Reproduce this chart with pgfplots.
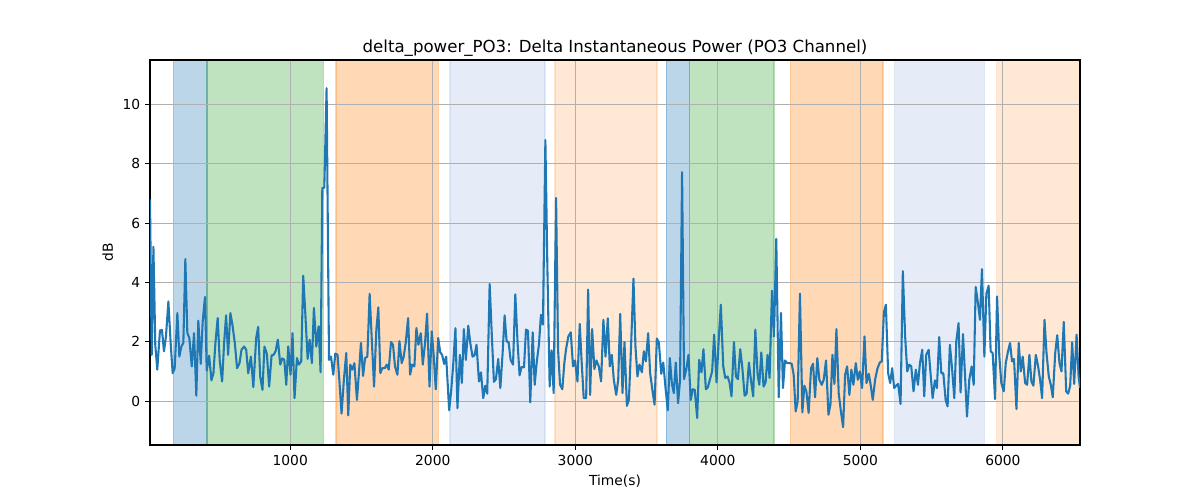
\documentclass[border=0pt]{standalone}
\usepackage{fontspec}
\setmainfont{DejaVu Sans}
\usepackage{pgfplots}
\pgfplotsset{compat=1.18}
\definecolor{tabblue}{RGB}{31,119,180}
\definecolor{lightspan}{RGB}{80,130,200}
\definecolor{tabgreen}{RGB}{44,160,44}
\definecolor{taborange}{RGB}{255,127,14}
\definecolor{gridgray}{RGB}{176,176,176}
\newcommand{\vspan}[4]{\addplot[on layer=axis background, fill=#3, draw=#3, fill opacity=#4, draw opacity=#4, line width=1bp] coordinates {(#1,-1.48) (#2,-1.48) (#2,11.5) (#1,11.5) (#1,-1.48)};}
\begin{document}
\begin{tikzpicture}
\begin{axis}[
  set layers,
  at={(0,0)}, anchor=south west,
  scale only axis, width=669.6bp, height=277.2bp,
  xmin=16, xmax=6541, ymin=-1.48, ymax=11.5,
  xtick={1000,2000,3000,4000,5000,6000}, ytick={0,2,4,6,8,10},
  grid=major, grid style={color=gridgray, line width=0.8bp},
  axis line style={line width=0.8bp},
  tick align=outside, major tick length=3.5bp,
  tick style={black, line width=0.8bp},
  tick pos=left,
  ticklabel style={font=\fontsize{10}{12}\selectfont},
  /pgf/number format/assume math mode=true,
  /pgf/number format/1000 sep={},
  xlabel={Time(s)}, ylabel={dB},
  label style={font=\fontsize{10}{12}\selectfont},
  title={delta\_power\_PO3: Delta Instantaneous Power (PO3 Channel)},
  title style={font=\fontsize{12}{14}\selectfont, inner sep=0pt, yshift=-3.6bp},
]
\vspan{180}{417}{tabblue}{0.3}
\vspan{417}{1232}{tabgreen}{0.3}
\vspan{1320}{2040}{taborange}{0.3}
\vspan{2122}{2786}{lightspan}{0.15}
\vspan{2857}{3574}{taborange}{0.18}
\vspan{3638}{3801}{tabblue}{0.3}
\vspan{3801}{4394}{tabgreen}{0.3}
\vspan{4509}{5160}{taborange}{0.3}
\vspan{5240}{5870}{lightspan}{0.15}
\vspan{5957}{6541}{taborange}{0.18}
\addplot[color=tabblue, line width=1.5bp, line join=round] coordinates {
(16,6.8) (28,1.56) (40,5.2) (53,1.9) (67,1.06) (86,2.38) (100,2.4) (114,1.68) (128,2.18) (145,3.36) (161,1.96) (175,0.94) (189,1.1) (208,2.97) (222,1.5) (236,1.84) (250,1.96) (264,4.79) (278,2.29) (292,2.13) (309,1.17) (325,2.29) (341,0.18) (355,2.71) (372,1.26) (386,2.71) (402,3.51) (414,1.03) (431,1.53) (447,0.70) (461,0.94) (475,1.96) (491,2.8) (505,1.37) (522,0.66) (536,1.96) (550,2.89) (564,1.56) (580,2.97) (594,2.58) (611,1.96) (627,1.11) (644,1.28) (658,1.73) (676,1.84) (691,1.73) (705,0.94) (724,1.5) (741,0.47)
(761,2.13) (775,2.5) (789,0.83) (805,0.38) (819,1.84) (836,1.59) (852,0.49) (869,1.54) (883,1.56) (897,1.68) (913,2.07) (930,1.23) (944,1.44) (958,1.39) (972,0.55) (986,1.84) (1002,0.89) (1016,2.29) (1030,0.1) (1047,1.45) (1061,1.23) (1077,1.34) (1091,4.23) (1108,2.74) (1122,1.42) (1136,2.07) (1152,1.28) (1166,3.14) (1183,1.84) (1199,2.52) (1213,0.97) (1225,7.19) (1239,7.19) (1255,10.55) (1272,1.39) (1286,1.5) (1302,0.89) (1316,1.6) (1332,1.56) (1346,0.6) (1360,-0.42) (1376,0.7) (1393,1.62) (1407,-0.48) (1421,1.23) (1435,1.06) (1450,1.28)
(1468,0.04) (1484,1.1) (1496,1.96) (1511,0.85) (1525,1.45) (1541,1.5) (1557,3.62) (1571,2.18) (1588,0.49) (1604,2.4) (1618,3.16) (1632,0.94) (1646,1.11) (1663,1.11) (1677,1.23) (1691,1.06) (1707,1.99) (1721,1.9) (1735,1.17) (1752,0.89) (1766,2.02) (1782,1.28) (1796,1.5) (1810,1.96) (1827,2.8) (1841,0.89) (1855,1.23) (1871,1.17) (1885,2.46) (1899,1.9) (1916,2.29) (1930,1.23) (1946,1.98) (1960,2.95) (1977,0.49) (1993,2.35) (2007,1.5) (2021,0.4) (2038,2.13) (2052,1.65) (2066,1.55) (2080,1.25) (2094,1.5) (2115,-0.31) (2129,0.35) (2143,1.2) (2159,2.46) (2173,-0.24)
(2190,1.56) (2204,0.61) (2218,2.43) (2232,1.39) (2249,2.54) (2263,1.96) (2279,1.5) (2293,1.54) (2307,1.9) (2324,0.66) (2338,0.97) (2354,0.1) (2368,0.52) (2382,0.25) (2399,3.95) (2415,2.13) (2429,0.65) (2443,0.74) (2459,1.42) (2474,0.44) (2490,1.62) (2504,2.89) (2518,2.01) (2532,1.99) (2546,1.39) (2563,1.23) (2579,3.6) (2595,1.96) (2609,0.87) (2623,1.15) (2640,1.14) (2654,2.41) (2668,2.37) (2684,-0.04) (2701,2.32) (2715,0.55) (2729,1.3) (2745,1.92) (2759,2.91) (2773,2.58) (2790,8.8) (2804,4.5) (2820,0.49) (2834,1.71) (2848,0.27) (2865,6.85) (2879,1.73) (2893,0.55) (2909,0.4) (2923,1.28)
(2935,1.75) (2951,2.18) (2968,2.32) (2984,1.17) (2998,1.37) (3015,0.66) (3031,2.6) (3045,1.28) (3059,0.1) (3076,0.1) (3090,3.76) (3104,0.21) (3118,2.43) (3134,1.08) (3148,1.37) (3165,1.17) (3181,0.66) (3197,2.74) (3212,1.5) (3228,2.79) (3242,1.17) (3256,1.56) (3270,0.72) (3287,0.21) (3301,0.72) (3315,2.94) (3331,0.27) (3345,1.99) (3362,-0.16) (3376,0.04) (3392,1.96) (3408,4.13) (3422,1.84) (3436,0.83) (3450,1.23) (3467,0.97) (3481,1.68) (3495,1.34) (3511,2.29) (3525,0.94) (3542,0.33) (3556,-0.12) (3572,2.11) (3586,1.98) (3603,0.92) (3617,1.3) (3633,0.44) (3649,-0.31)
(3663,1.45) (3677,0.61) (3691,0.27) (3705,1.3) (3721,-0.07) (3735,0.72) (3749,7.72) (3763,0.74) (3780,1.11) (3794,1.56) (3810,0.04) (3824,0.4) (3838,0.38) (3855,-0.57) (3869,1.39) (3885,0.97) (3899,1.75) (3916,0.4) (3930,0.47) (3944,0.72) (3960,1.0) (3974,2.24) (3991,0.63) (4005,1.96) (4021,3.25) (4038,1.17) (4052,0.78) (4068,0.83) (4082,0.63) (4096,0.16) (4113,1.99) (4127,0.83) (4141,0.74) (4157,1.75) (4171,1.17) (4188,0.18) (4202,0.25) (4218,1.3) (4232,0.72) (4248,0.16) (4263,2.41) (4279,0.89) (4291,0.55) (4305,1.64) (4321,0.49) (4335,0.63) (4349,1.56) (4363,0.78) (4380,3.72) (4394,2.18)
(4410,5.47) (4427,0.13) (4443,2.97) (4457,0.44) (4471,1.37) (4487,1.28) (4504,1.28) (4518,1.26) (4532,0.89) (4546,-0.35) (4560,-0.01) (4576,3.62) (4593,-0.38) (4607,0.52) (4621,0.33) (4637,-0.4) (4654,1.11) (4668,1.26) (4682,0.13) (4698,1.45) (4712,0.72) (4729,0.55) (4743,0.72) (4759,1.37) (4776,-0.46) (4790,-0.12) (4804,1.56) (4818,0.58) (4832,2.43) (4848,0.27) (4862,-0.29) (4879,-0.88) (4893,0.89) (4907,1.17) (4923,0.21) (4937,1.06) (4951,0.55) (4968,1.28) (4982,0.72) (4996,1.0) (5012,0.44) (5029,2.18) (5043,0.61) (5059,0.92) (5073,0.52) (5087,0.04) (5104,0.74) (5120,1.1)
(5136,1.3) (5150,1.34) (5165,2.99) (5179,3.25) (5195,0.94) (5209,0.61) (5223,1.11) (5237,0.44) (5251,0.52) (5265,0.58) (5282,-0.1) (5298,4.38) (5314,2.18) (5329,1.0) (5343,1.23) (5357,1.17) (5373,0.33) (5389,1.06) (5404,0.55) (5418,1.28) (5434,1.73) (5448,0.16) (5462,1.56) (5479,1.73) (5493,0.89) (5507,0.1) (5523,0.7) (5537,0.44) (5553,2.16) (5568,0.94) (5582,0.94) (5598,0.04) (5612,-0.18) (5628,1.9) (5643,1.11) (5659,0.1) (5673,2.01) (5689,2.63) (5703,0.29) (5720,2.26) (5734,0.89) (5748,-0.52) (5764,0.72) (5781,1.17) (5795,0.55) (5809,3.85) (5825,3.31) (5839,2.74) (5853,4.45)
(5870,1.5) (5884,3.62) (5900,3.89) (5914,1.68) (5928,1.62) (5945,0.07) (5959,3.53) (5975,1.5) (5989,0.61) (6006,0.33) (6020,1.28) (6036,1.68) (6050,1.96) (6064,1.34) (6078,1.42) (6095,-0.27) (6111,1.96) (6125,1.0) (6139,1.5) (6156,0.61) (6170,0.55) (6186,1.56) (6200,0.66) (6214,0.52) (6231,1.56) (6247,1.17) (6261,0.72) (6275,0.1) (6292,2.74) (6306,1.62) (6322,0.83) (6336,0.55) (6350,0.13) (6367,1.62) (6381,2.22) (6397,1.28) (6411,1.0) (6427,2.67) (6444,0.33) (6458,0.25) (6472,0.52) (6486,1.98) (6500,0.58) (6517,2.24) (6531,0.83) (6541,0.45)
};
\end{axis}
\path (-108bp,-39.6bp) rectangle (756bp,320.4bp);
\end{tikzpicture}
\end{document}
